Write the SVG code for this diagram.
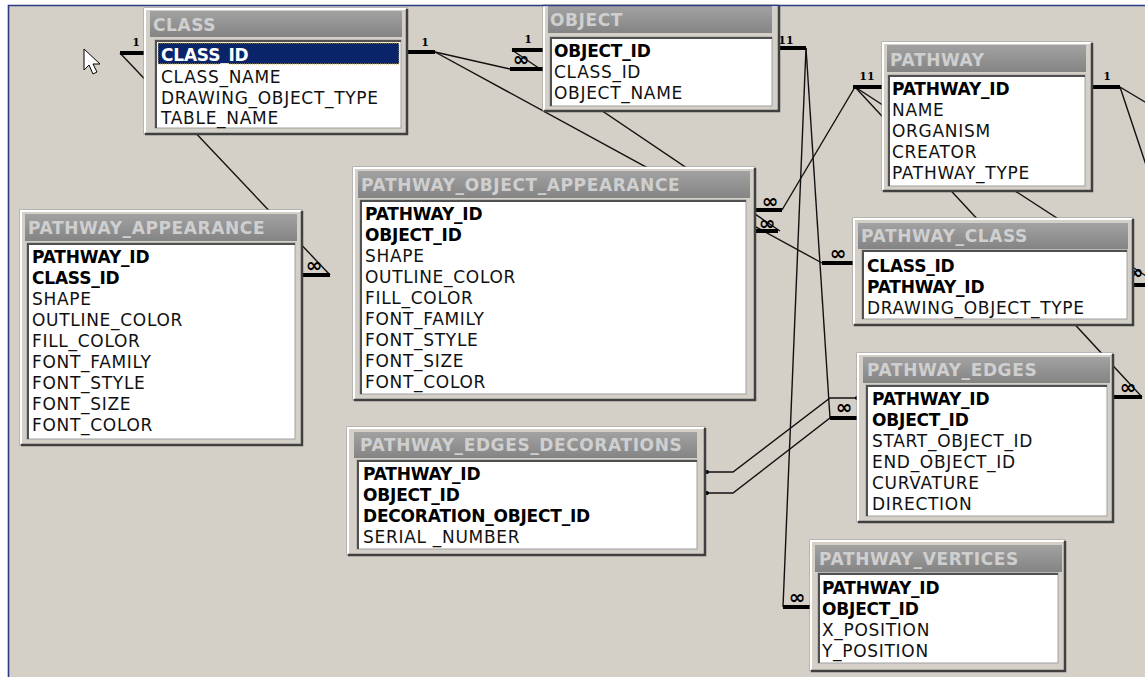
<svg xmlns="http://www.w3.org/2000/svg" width="1145" height="677" viewBox="0 0 1145 677">
<defs>
<linearGradient id="tg" x1="0" y1="0" x2="0" y2="1">
<stop offset="0" stop-color="#a2a2a2"/>
<stop offset="1" stop-color="#848484"/>
</linearGradient>
<style>
.frm{fill:#d4d0c8;stroke:#9a9a9a;stroke-width:1}
.hi{fill:none;stroke:#ffffff;stroke-width:2}
.sh{fill:none;stroke:#404040;stroke-width:2.5}
.tb{fill:url(#tg)}
.tt{font-family:"DejaVu Sans",sans-serif;font-weight:bold;font-size:17px;letter-spacing:0.6px;fill:#cfcfcf}
.lb{fill:#ffffff;stroke:#a0a0a0;stroke-width:1}
.lbs{fill:none;stroke:#505050;stroke-width:2}
.r{font-family:"DejaVu Sans",sans-serif;font-size:17px;letter-spacing:0.7px;fill:#111}
.b{font-family:"DejaVu Sans",sans-serif;font-size:17px;font-weight:bold;letter-spacing:-0.2px;fill:#000}
.ln{fill:none;stroke:#111;stroke-width:1.4}
.bar{fill:none;stroke:#000;stroke-width:4}
.one{font-family:"DejaVu Serif",serif;font-weight:bold;font-size:11px;fill:#000;text-anchor:middle}
.inf{font-family:"DejaVu Sans",sans-serif;font-weight:bold;font-size:20px;fill:#000;text-anchor:middle}
</style>
</defs>
<rect x="0" y="0" width="1145" height="677" fill="#ffffff"/>
<rect x="8" y="5" width="1137" height="672" fill="#d4d0c8"/>

<g id="connectors">
<path class="ln" d="M120,53 L330,275"/>
<path class="ln" d="M435,52 L510,69"/>
<path class="ln" d="M435,52 L822,263"/>
<path class="ln" d="M512,50 L780,231"/>
<path class="ln" d="M782,210 L855,87"/>
<path class="ln" d="M855,87 L1142,397"/>
<path class="ln" d="M855,87 L1160,285"/>
<path class="ln" d="M806,48 L783,607"/>
<path class="ln" d="M806,48 L830,418"/>
<path class="ln" d="M1120,87 L1170,117"/>
<path class="ln" d="M1120,87 L1160,207"/>
<path class="ln" d="M707,472 L733,472 L830,398 L857,398"/>
<path class="ln" d="M707,493 L733,493 L830,418 L857,418"/>
<circle cx="857" cy="398" r="2" fill="#000"/>
<circle cx="707" cy="472" r="2" fill="#000"/>
<circle cx="707" cy="493" r="2" fill="#000"/>
<path class="bar" d="M120,53 H147"/>
<path class="bar" d="M407,52 H435"/>
<path class="bar" d="M512,50 H543"/>
<path class="bar" d="M510,69 H543"/>
<path class="bar" d="M779,48 H806"/>
<path class="bar" d="M853,87 H882"/>
<path class="bar" d="M1092,87 H1120"/>
<path class="bar" d="M302,275 H330"/>
<path class="bar" d="M755,210 H782"/>
<path class="bar" d="M755,231 H778"/>
<path class="bar" d="M822,263 H853"/>
<path class="bar" d="M1133,285 H1150"/>
<path class="bar" d="M830,418 H857"/>
<path class="bar" d="M1113,397 H1142"/>
<path class="bar" d="M783,607 H810"/>
<text class="one" x="136" y="46">1</text>
<text class="one" x="425" y="46">1</text>
<text class="one" x="528" y="43">1</text>
<text class="one" x="786" y="44">11</text>
<text class="one" x="867" y="80">11</text>
<text class="one" x="1107" y="80">1</text>
<text class="inf" x="521" y="66">∞</text>
<text class="inf" x="314" y="272">∞</text>
<text class="inf" x="770" y="208">∞</text>
<text class="inf" x="767" y="230">∞</text>
<text class="inf" x="838" y="260">∞</text>
<text class="inf" x="1135" y="279">∞</text>
<text class="inf" x="844" y="414">∞</text>
<text class="inf" x="1128" y="394">∞</text>
<text class="inf" x="797" y="604">∞</text>
</g>

<g id="CLASS">
<rect class="frm" x="144" y="8" width="263" height="126"/>
<path class="hi" d="M145,133 V9 H406"/>
<path class="sh" d="M145,134 H407 V9"/>
<rect class="tb" x="150" y="11" width="252" height="26"/>
<text class="tt" x="153" y="31">CLASS</text>
<rect class="lb" x="155" y="40" width="246" height="88"/>
<path class="lbs" d="M156,128 V41 H401"/>
<rect x="158" y="43" width="241" height="21" fill="#0a246a" stroke="#c8b060" stroke-dasharray="1,1"/>
<text class="b" x="161" y="61" style="fill:#ffffff">CLASS_ID</text>
<text class="r" x="161" y="83">CLASS_NAME</text>
<text class="r" x="161" y="104">DRAWING_OBJECT_TYPE</text>
<text class="r" x="161" y="124">TABLE_NAME</text>
</g>

<g id="OBJECT">
<rect class="frm" x="543" y="5" width="236" height="106"/>
<path class="hi" d="M544,110 V6 H778"/>
<path class="sh" d="M544,111 H779 V6"/>
<rect class="tb" x="548" y="6" width="224" height="27"/>
<text class="tt" x="550" y="26">OBJECT</text>
<rect class="lb" x="550" y="37" width="222" height="69"/>
<path class="lbs" d="M551,106 V38 H772"/>
<text class="b" x="554" y="57">OBJECT_ID</text>
<text class="r" x="554" y="78">CLASS_ID</text>
<text class="r" x="554" y="99">OBJECT_NAME</text>
</g>

<g id="PATHWAY">
<rect class="frm" x="882" y="42" width="210" height="149"/>
<path class="hi" d="M883,190 V43 H1091"/>
<path class="sh" d="M883,191 H1092 V43"/>
<rect class="tb" x="887" y="45" width="199" height="27"/>
<text class="tt" x="890" y="66">PATHWAY</text>
<rect class="lb" x="888" y="75" width="197" height="111"/>
<path class="lbs" d="M889,186 V76 H1085"/>
<text class="b" x="892" y="95">PATHWAY_ID</text>
<text class="r" x="892" y="116">NAME</text>
<text class="r" x="892" y="137">ORGANISM</text>
<text class="r" x="892" y="158">CREATOR</text>
<text class="r" x="892" y="179">PATHWAY_TYPE</text>
</g>

<g id="PATHWAY_APPEARANCE">
<rect class="frm" x="20" y="210" width="282" height="235"/>
<path class="hi" d="M21,444 V211 H301"/>
<path class="sh" d="M21,445 H302 V211"/>
<rect class="tb" x="25" y="214" width="272" height="27"/>
<text class="tt" x="28" y="234">PATHWAY_APPEARANCE</text>
<rect class="lb" x="27" y="243" width="268" height="196"/>
<path class="lbs" d="M28,439 V244 H295"/>
<text class="b" x="32" y="263">PATHWAY_ID</text>
<text class="b" x="32" y="284">CLASS_ID</text>
<text class="r" x="32" y="305">SHAPE</text>
<text class="r" x="32" y="326">OUTLINE_COLOR</text>
<text class="r" x="32" y="347">FILL_COLOR</text>
<text class="r" x="32" y="368">FONT_FAMILY</text>
<text class="r" x="32" y="389">FONT_STYLE</text>
<text class="r" x="32" y="410">FONT_SIZE</text>
<text class="r" x="32" y="431">FONT_COLOR</text>
</g>

<g id="PATHWAY_OBJECT_APPEARANCE">
<rect class="frm" x="353" y="167" width="402" height="233"/>
<path class="hi" d="M354,399 V168 H754"/>
<path class="sh" d="M354,400 H755 V168"/>
<rect class="tb" x="358" y="171" width="392" height="27"/>
<text class="tt" x="361" y="191">PATHWAY_OBJECT_APPEARANCE</text>
<rect class="lb" x="360" y="200" width="386" height="194"/>
<path class="lbs" d="M361,394 V201 H746"/>
<text class="b" x="365" y="220">PATHWAY_ID</text>
<text class="b" x="365" y="241">OBJECT_ID</text>
<text class="r" x="365" y="262">SHAPE</text>
<text class="r" x="365" y="283">OUTLINE_COLOR</text>
<text class="r" x="365" y="304">FILL_COLOR</text>
<text class="r" x="365" y="325">FONT_FAMILY</text>
<text class="r" x="365" y="346">FONT_STYLE</text>
<text class="r" x="365" y="367">FONT_SIZE</text>
<text class="r" x="365" y="388">FONT_COLOR</text>
</g>

<g id="PATHWAY_CLASS">
<rect class="frm" x="853" y="218" width="280" height="107"/>
<path class="hi" d="M854,324 V219 H1132"/>
<path class="sh" d="M854,325 H1133 V219"/>
<rect class="tb" x="858" y="223" width="270" height="26"/>
<text class="tt" x="861" y="242">PATHWAY_CLASS</text>
<rect class="lb" x="862" y="250" width="265" height="69"/>
<path class="lbs" d="M863,319 V251 H1127"/>
<text class="b" x="867" y="272">CLASS_ID</text>
<text class="b" x="867" y="293">PATHWAY_ID</text>
<text class="r" x="867" y="314">DRAWING_OBJECT_TYPE</text>
</g>

<g id="PATHWAY_EDGES">
<rect class="frm" x="857" y="353" width="256" height="169"/>
<path class="hi" d="M858,521 V354 H1112"/>
<path class="sh" d="M858,522 H1113 V354"/>
<rect class="tb" x="863" y="357" width="247" height="26"/>
<text class="tt" x="867" y="376">PATHWAY_EDGES</text>
<rect class="lb" x="866" y="385" width="241" height="131"/>
<path class="lbs" d="M867,516 V386 H1107"/>
<text class="b" x="872" y="405">PATHWAY_ID</text>
<text class="b" x="872" y="426">OBJECT_ID</text>
<text class="r" x="872" y="447">START_OBJECT_ID</text>
<text class="r" x="872" y="468">END_OBJECT_ID</text>
<text class="r" x="872" y="489">CURVATURE</text>
<text class="r" x="872" y="510">DIRECTION</text>
</g>

<g id="PATHWAY_VERTICES">
<rect class="frm" x="810" y="540" width="255" height="131"/>
<path class="hi" d="M811,670 V541 H1064"/>
<path class="sh" d="M811,671 H1065 V541"/>
<rect class="tb" x="815" y="545" width="247" height="27"/>
<text class="tt" x="819" y="565">PATHWAY_VERTICES</text>
<rect class="lb" x="818" y="573" width="240" height="90"/>
<path class="lbs" d="M819,663 V574 H1058"/>
<text class="b" x="822" y="594">PATHWAY_ID</text>
<text class="b" x="822" y="615">OBJECT_ID</text>
<text class="r" x="822" y="636">X_POSITION</text>
<text class="r" x="822" y="657">Y_POSITION</text>
</g>

<g id="PATHWAY_EDGES_DECORATIONS">
<rect class="frm" x="347" y="427" width="358" height="128"/>
<path class="hi" d="M348,554 V428 H704"/>
<path class="sh" d="M348,555 H705 V428"/>
<rect class="tb" x="354" y="432" width="343" height="26"/>
<text class="tt" x="360" y="451">PATHWAY_EDGES_DECORATIONS</text>
<rect class="lb" x="357" y="460" width="340" height="89"/>
<path class="lbs" d="M358,549 V461 H697"/>
<text class="b" x="363" y="480">PATHWAY_ID</text>
<text class="b" x="363" y="501">OBJECT_ID</text>
<text class="b" x="363" y="522">DECORATION_OBJECT_ID</text>
<text class="r" x="363" y="543">SERIAL _NUMBER</text>
</g>

<path d="M84,49 L84,70 L89,65 L93,74 L97,72 L93,64 L100,64 Z" fill="#ffffff" stroke="#000" stroke-width="1"/>
<path d="M8.5,677 V5.5 H1145" fill="none" stroke="#2b3a83" stroke-width="1.6"/>
</svg>
